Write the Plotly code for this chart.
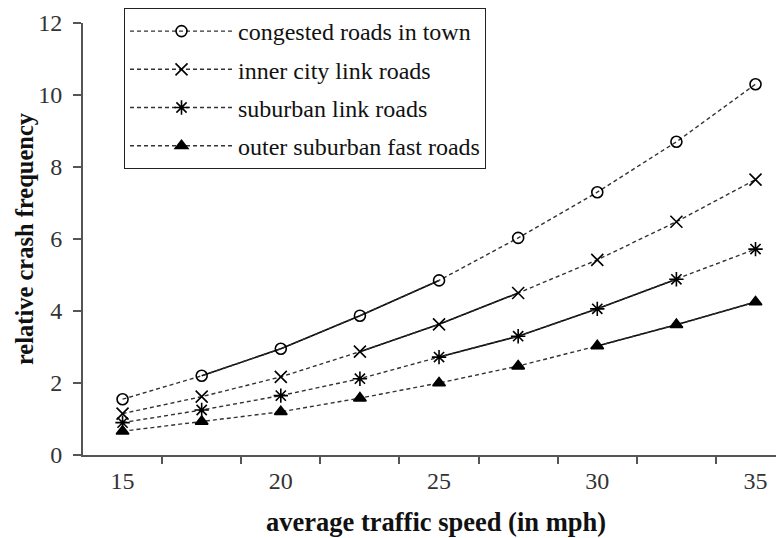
import plotly.graph_objects as go

speeds = [15, 17.5, 20, 22.5, 25, 27.5, 30, 32.5, 35]
congested = [1.55, 2.2, 2.95, 3.87, 4.85, 6.03, 7.3, 8.7, 10.3]
inner_city = [1.15, 1.62, 2.17, 2.87, 3.63, 4.5, 5.42, 6.48, 7.65]
suburban = [0.9, 1.25, 1.65, 2.12, 2.72, 3.3, 4.06, 4.88, 5.72]
outer = [0.66, 0.93, 1.2, 1.58, 2.0, 2.47, 3.03, 3.62, 4.25]

series_names = ["congested roads in town", "inner city link roads",
                "suburban link roads", "outer suburban fast roads"]
series_values = [congested, inner_city, suburban, outer]
# index range (inclusive) of the solid-line portion of each series
solid_ranges = [(1, 4), (3, 5), (4, 7), (6, 8)]
symbols = ["circle-open", "x-thin-open", "asterisk-open", "triangle-up"]
sizes = [11, 12, 12, 11]

xtick_vals = [15, 20, 25, 30, 35]
xtick_text = ["15", "20", "25", "30", "35"]
minor_ticks = [16.25, 18.75, 21.25, 23.75, 26.25, 28.75, 31.25, 33.75]

x_title = "average traffic speed (in mph)"
y_title = "relative crash frequency"

fig = go.Figure()
for i, (name, vals) in enumerate(zip(series_names, series_values)):
    a, b = solid_ranges[i]
    fig.add_trace(go.Scatter(
        x=speeds[a:b + 1], y=vals[a:b + 1], mode="lines",
        line=dict(color="black", width=1.6), showlegend=False,
        legendgroup=f"g{i}", hoverinfo="skip"))
    fig.add_trace(go.Scatter(
        x=speeds, y=vals, mode="lines+markers", name=name,
        legendgroup=f"g{i}",
        line=dict(color="#333333", width=1.4, dash="4px,3px"),
        marker=dict(symbol=symbols[i], size=sizes[i], color="black",
                    line=dict(color="black", width=1.6))))

fig.add_annotation(text=f"<b>{x_title}</b>", xref="paper", yref="paper",
                   x=0.5036, y=-0.155, xanchor="center", yanchor="middle",
                   showarrow=False, font=dict(size=26.5, color="#111111"))
fig.add_annotation(text=f"<b>{y_title}</b>", xref="paper", yref="paper",
                   x=-0.0842, y=0.502, xanchor="center", yanchor="middle",
                   textangle=-90, showarrow=False,
                   font=dict(size=24.5, color="#111111"))

fig.update_layout(
    width=776, height=530,
    margin=dict(l=75, r=0, t=15, b=83),
    paper_bgcolor="white", plot_bgcolor="white",
    font=dict(family="Liberation Serif", size=24, color="#222222"),
    showlegend=True,
    legend=dict(x=0.0585, y=1.0347, xanchor="left", yanchor="top",
                bordercolor="#222222", borderwidth=1, bgcolor="white",
                font=dict(size=24, color="#111111"),
                traceorder="grouped", tracegroupgap=4, itemwidth=103,
                entrywidth=366),
    xaxis=dict(range=[13.75, 35.9], tickvals=xtick_vals, ticktext=xtick_text,
               ticks="", showgrid=False, zeroline=False,
               showline=True, linecolor="#555555", linewidth=2,
               ticklabelstandoff=3,
               tickfont=dict(size=24, color="#333333"),
               minor=dict(tickvals=minor_ticks, ticks="outside", ticklen=7,
                          tickwidth=1.5, tickcolor="#555555", showgrid=False)),
    yaxis=dict(range=[0, 12], dtick=2, ticks="outside", ticklen=8,
               tickwidth=1.5, tickcolor="#555555", ticklabelstandoff=6,
               showgrid=False, zeroline=False,
               showline=True, linecolor="#555555", linewidth=2,
               tickfont=dict(size=24, color="#333333")),
)

fig.write_html("out.html")
